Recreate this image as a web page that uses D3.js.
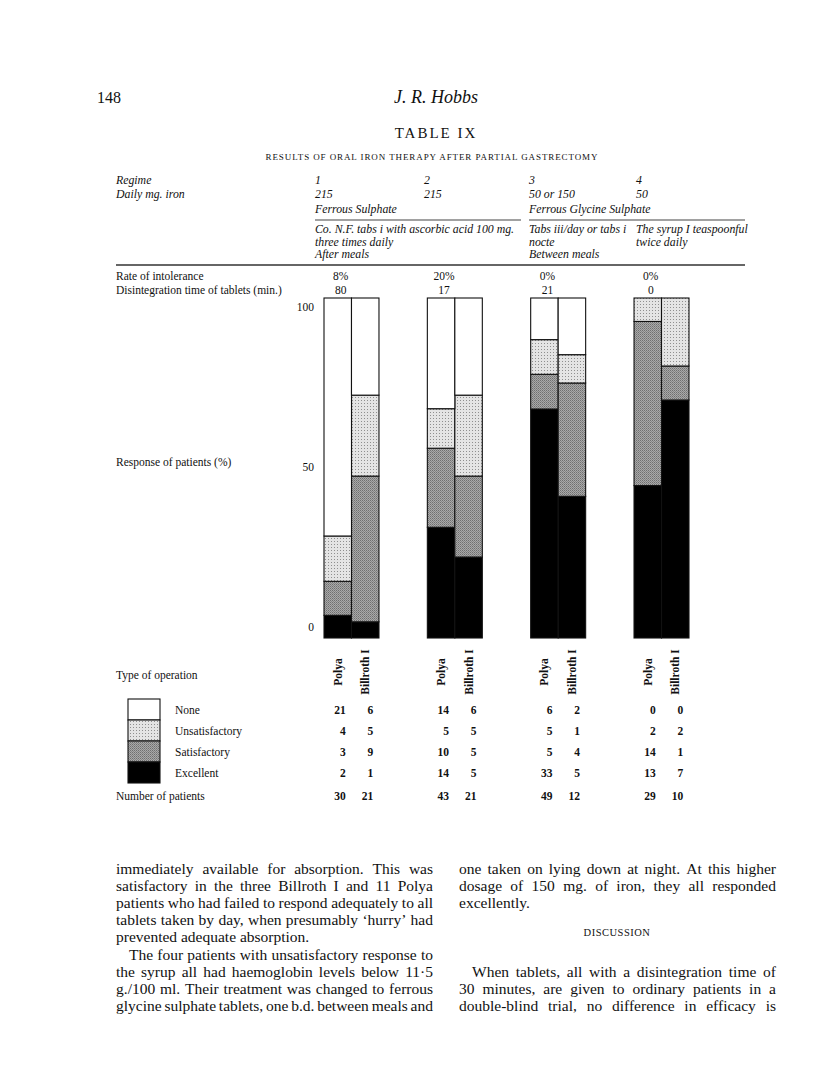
<!DOCTYPE html>
<html>
<head>
<meta charset="utf-8">
<script src="https://cdn.jsdelivr.net/npm/d3@7"></script>
<style>
  body { margin: 0; background: #fff; }
  text { font-family: "Liberation Serif", "Times New Roman", serif; fill: #111; }
</style>
</head>
<body>
<script>
// table data
const regimes = ['1', '2', '3', '4'];
const dailyIron = ['215', '215', '50 or 150', '50'];
const operations = ['Polya', 'Billroth I'];
const responses = ['None', 'Unsatisfactory', 'Satisfactory', 'Excellent'];
const noneCounts = [21, 6, 14, 6, 6, 2, 0, 0];
const unsatCounts = [4, 5, 5, 5, 5, 1, 2, 2];
const satCounts = [3, 9, 10, 5, 5, 4, 14, 1];
const excCounts = [2, 1, 14, 5, 33, 5, 13, 7];
const totals = [30, 21, 43, 21, 49, 12, 29, 10];
const intolerance = ['8%', '20%', '0%', '0%'];
const disintegration = ['80', '17', '21', '0'];
const yTicks = [0, 50, 100];

const leftText = [
  'immediately available for absorption. This was',
  'satisfactory in the three Billroth I and 11 Polya',
  'patients who had failed to respond adequately to all',
  'tablets taken by day, when presumably \u2018hurry\u2019 had',
  'prevented adequate absorption.',
  'The four patients with unsatisfactory response to',
  'the syrup all had haemoglobin levels below 11\u00b75',
  'g./100 ml. Their treatment was changed to ferrous',
  'glycine sulphate tablets, one b.d. between meals and'
];
const rightTop = [
  'one taken on lying down at night. At this higher',
  'dosage of 150 mg. of iron, they all responded',
  'excellently.'
];
const rightBottom = [
  'When tablets, all with a disintegration time of',
  '30 minutes, are given to ordinary patients in a',
  'double-blind trial, no difference in efficacy is'
];

const svg = d3.select('body').append('svg')
  .attr('width', 816).attr('height', 1075);

const defs = svg.append('defs');
const pu = defs.append('pattern').attr('id', 'unsat')
  .attr('width', 3).attr('height', 3).attr('patternUnits', 'userSpaceOnUse');
pu.append('rect').attr('width', 3).attr('height', 3).attr('fill', '#e4e4e4');
pu.append('rect').attr('x', 1).attr('y', 1).attr('width', 1).attr('height', 1).attr('fill', '#8f8f8f');
const ps = defs.append('pattern').attr('id', 'sat')
  .attr('width', 2).attr('height', 2).attr('patternUnits', 'userSpaceOnUse');
ps.append('rect').attr('width', 2).attr('height', 2).attr('fill', '#a9a9a9');
ps.append('rect').attr('width', 1).attr('height', 1).attr('fill', '#6f6f6f');
ps.append('rect').attr('x', 1).attr('y', 1).attr('width', 1).attr('height', 1).attr('fill', '#858585');

const fills = { None: '#fff', Unsatisfactory: 'url(#unsat)', Satisfactory: 'url(#sat)', Excellent: '#000' };

// header
svg.append('text').attr('x', 97).attr('y', 103).attr('font-size', 16).text('148');
svg.append('text').attr('x', 436).attr('y', 103).attr('font-size', 18)
  .attr('font-style', 'italic').attr('text-anchor', 'middle').text('J. R. Hobbs');
svg.append('text').attr('x', 436).attr('y', 138).attr('font-size', 15)
  .attr('letter-spacing', 2).attr('text-anchor', 'middle').text('TABLE IX');
svg.append('text').attr('x', 432).attr('y', 160).attr('font-size', 9)
  .attr('letter-spacing', 0.9).attr('text-anchor', 'middle')
  .text('RESULTS OF ORAL IRON THERAPY AFTER PARTIAL GASTRECTOMY');

// scales
const x = d3.scaleBand().domain(regimes).range([324, 689]).paddingInner(0.468);
const xOp = d3.scaleBand().domain(operations).range([0, x.bandwidth()]);
const y = d3.scaleLinear().domain([0, 100]).range([638, 298]);
const yLab = d3.scaleLinear().domain([0, 100]).range([627, 307]);

const colX = [315, 424, 529, 636];
const fs = 11.5;
const it = (xx, yy, t) => svg.append('text').attr('x', xx).attr('y', yy)
  .attr('font-size', 11.8).attr('font-style', 'italic').text(t);

it(116, 184, 'Regime');
it(116, 198, 'Daily mg. iron');
regimes.forEach((r, i) => { it(colX[i], 184, r); it(colX[i], 198, dailyIron[i]); });
it(colX[0], 213, 'Ferrous Sulphate');
it(colX[2], 213, 'Ferrous Glycine Sulphate');
svg.append('line').attr('x1', colX[0]).attr('x2', 521).attr('y1', 220).attr('y2', 220)
  .attr('stroke', '#444').attr('stroke-width', 1.2);
svg.append('line').attr('x1', colX[2]).attr('x2', 745).attr('y1', 220).attr('y2', 220)
  .attr('stroke', '#444').attr('stroke-width', 1.2);
['Co. N.F. tabs i with ascorbic acid 100 mg.', 'three times daily', 'After meals']
  .forEach((t, i) => it(colX[0], 233 + i * 12.5, t));
['Tabs iii/day or tabs i', 'nocte', 'Between meals']
  .forEach((t, i) => it(colX[2], 233 + i * 12.5, t));
['The syrup I teaspoonful', 'twice daily']
  .forEach((t, i) => it(colX[3], 233 + i * 12.5, t));
svg.append('line').attr('x1', 116).attr('x2', 745).attr('y1', 265).attr('y2', 265)
  .attr('stroke', '#333').attr('stroke-width', 1.6);

const up = (xx, yy, t, anchor) => svg.append('text').attr('x', xx).attr('y', yy)
  .attr('font-size', fs).attr('text-anchor', anchor || 'start').text(t);
up(116, 280, 'Rate of intolerance');
up(116, 294, 'Disintegration time of tablets (min.)');
regimes.forEach((r, i) => {
  const cx = x(r) + xOp.bandwidth() / 2 + 3;
  up(cx, 280, intolerance[i], 'middle');
  up(cx, 294, disintegration[i], 'middle');
});

// bars
const rows = [];
regimes.forEach((r, gi) => operations.forEach((op, oi) => {
  const k = gi * 2 + oi;
  rows.push({
    regime: r, op: op,
    Excellent: excCounts[k] / totals[k] * 100,
    Satisfactory: satCounts[k] / totals[k] * 100,
    Unsatisfactory: unsatCounts[k] / totals[k] * 100,
    None: noneCounts[k] / totals[k] * 100
  });
}));
const series = d3.stack().keys(['Excellent', 'Satisfactory', 'Unsatisfactory', 'None'])(rows);

svg.append('g').selectAll('g').data(series).join('g')
  .attr('fill', s => fills[s.key])
  .selectAll('rect').data(s => s).join('rect')
  .attr('x', d => x(d.data.regime) + xOp(d.data.op))
  .attr('width', xOp.bandwidth())
  .attr('y', d => y(d[1]))
  .attr('height', d => y(d[0]) - y(d[1]))
  .attr('stroke', '#111').attr('stroke-width', 1.1);

// y labels
const yAxis = svg.append('g').attr('transform', 'translate(314,0)')
  .call(d3.axisLeft(yLab).tickValues(yTicks).tickSize(0).tickPadding(0));
yAxis.select('.domain').remove();
yAxis.selectAll('text').attr('font-size', fs).attr('font-family', '"Liberation Serif", serif').attr('fill', '#111');
up(116, 466, 'Response of patients (%)');

// operation labels
up(116, 679, 'Type of operation');
regimes.forEach(r => operations.forEach(op => {
  const cx = x(r) + xOp(op) + xOp.bandwidth() / 2 + 4;
  svg.append('text').attr('transform', `translate(${cx},672) rotate(-90)`)
    .attr('text-anchor', 'middle').attr('font-size', 11.5).attr('font-weight', 'bold').text(op);
}));

// legend
const legY = d3.scaleBand().domain(responses).range([699, 783]);
const leg = svg.append('g');
leg.selectAll('rect').data(responses).join('rect')
  .attr('x', 128).attr('width', 32)
  .attr('y', d => legY(d)).attr('height', legY.bandwidth())
  .attr('fill', d => fills[d]).attr('stroke', '#111').attr('stroke-width', 1.1);
responses.forEach(r => up(175, legY(r) + legY.bandwidth() / 2 + 4, r));

const countRows = [noneCounts, unsatCounts, satCounts, excCounts];
countRows.forEach((arr, ri) => {
  arr.forEach((v, k) => {
    const r = regimes[Math.floor(k / 2)], op = operations[k % 2];
    svg.append('text').attr('x', x(r) + xOp(op) + xOp.bandwidth() / 2 + 8)
      .attr('y', legY(responses[ri]) + legY.bandwidth() / 2 + 4)
      .attr('text-anchor', 'end').attr('font-size', 11.5).attr('font-weight', 'bold').text(v);
  });
});
up(116, 800, 'Number of patients');
totals.forEach((v, k) => {
  const r = regimes[Math.floor(k / 2)], op = operations[k % 2];
  svg.append('text').attr('x', x(r) + xOp(op) + xOp.bandwidth() / 2 + 8).attr('y', 800)
    .attr('text-anchor', 'end').attr('font-size', 11.5).attr('font-weight', 'bold').text(v);
});

// body text, justified
const bodySize = 15.5;
function measure(t) {
  const n = svg.append('text').attr('font-size', bodySize).text(t);
  const w = n.node().getComputedTextLength();
  n.remove();
  return w;
}
function line(t, x0, x1, yy, justify, indent) {
  const words = t.split(' ');
  const start = x0 + (indent || 0);
  if (!justify || words.length < 2) {
    svg.append('text').attr('x', start).attr('y', yy).attr('font-size', bodySize).text(t);
    return;
  }
  const ws = words.map(measure);
  const gap = (x1 - start - d3.sum(ws)) / (words.length - 1);
  let cx = start;
  words.forEach((w, i) => {
    svg.append('text').attr('x', cx).attr('y', yy).attr('font-size', bodySize).text(w);
    cx += ws[i] + gap;
  });
}
const lh = 17.1;
leftText.forEach((t, i) => {
  line(t, 116, 433, 874 + i * lh, i !== 4, i === 5 ? 13 : 0);
});
rightTop.forEach((t, i) => line(t, 459, 776, 874 + i * lh, i !== 2, 0));
svg.append('text').attr('x', 617).attr('y', 936).attr('font-size', 10.5)
  .attr('letter-spacing', 0.5).attr('text-anchor', 'middle').text('DISCUSSION');
rightBottom.forEach((t, i) => line(t, 459, 776, 977 + i * lh, true, i === 0 ? 13 : 0));
</script>
</body>
</html>
